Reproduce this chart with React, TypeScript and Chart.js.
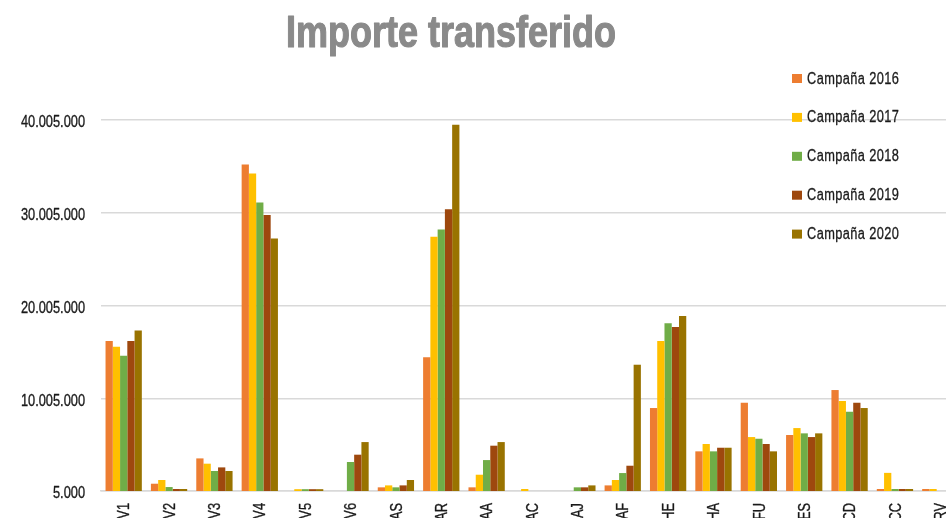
import React, { useEffect, useRef } from "react";
import { Chart, registerables } from "chart.js";

Chart.register(...registerables);

const categories = ["V1", "V2", "V3", "V4", "V5", "V6", "AS", "AR", "AA", "AC", "AJ", "AF", "HE", "HA", "FU", "ES", "CD", "CC", "RV"];

const campana2016 = [16170000, 790000, 3520000, 35220000, null, null, 400000, 14420000, 400000, null, null, 610000, 8950000, 4280000, 9520000, 6040000, 10890000, 220000, 220000];
const campana2017 = [15560000, 1190000, 2950000, 34250000, 200000, null, 610000, 27420000, 1760000, 220000, null, 1190000, 16170000, 5070000, 5820000, 6790000, 9710000, 1960000, 220000];
const campana2018 = [14590000, 430000, 2160000, 31120000, 200000, 3130000, 400000, 28200000, 3340000, 0, 400000, 1940000, 18080000, 4280000, 5640000, 6220000, 8550000, 220000, 0];
const campana2019 = [16170000, 220000, 2550000, 29760000, 200000, 3920000, 610000, 30370000, 4890000, 0, 400000, 2730000, 17680000, 4670000, 5070000, 5820000, 9520000, 220000, 0];
const campana2020 = [17320000, 220000, 2160000, 27240000, 200000, 5280000, 1190000, 39500000, 5280000, 0, 610000, 13620000, 18870000, 4670000, 4280000, 6220000, 8950000, 220000, 0];

const seriesLabels = ["Campaña 2016", "Campaña 2017", "Campaña 2018", "Campaña 2019", "Campaña 2020"];
const seriesColors = ["#ED7D31", "#FFC000", "#70AD47", "#9E480E", "#997300"];
const yTicks = [5000, 10005000, 20005000, 30005000, 40005000];
const titleText = "Importe transferido";

const FONT = "'Liberation Sans', Arial, sans-serif";
const NARROW = 0.8;
const TEXT_COLOR = "#1a1a1a";

const fmt = (v: number) => String(Math.round(v)).replace(/\B(?=(\d{3})+(?!\d))/g, ".");

function narrowText(ctx: CanvasRenderingContext2D, text: string, x: number, y: number, rot = 0, stroke = 0) {
  ctx.save();
  ctx.translate(x, y);
  if (rot) ctx.rotate(rot);
  ctx.scale(NARROW, 1);
  ctx.fillText(text, 0, 0);
  if (stroke > 0) {
    ctx.lineWidth = stroke;
    ctx.strokeStyle = ctx.fillStyle as string;
    ctx.lineJoin = "round";
    ctx.strokeText(text, 0, 0);
  }
  ctx.restore();
}

const overlayPlugin = {
  id: "overlay",
  afterDraw(chart: any) {
    const ctx: CanvasRenderingContext2D = chart.ctx;
    ctx.save();
    ctx.textBaseline = "alphabetic";

    // title
    ctx.font = `bold 45px ${FONT}`;
    ctx.fillStyle = "#8a8a8a";
    ctx.textAlign = "center";
    narrowText(ctx, titleText, 451, 46.5, 0, 1.2);

    // y tick labels from the library's y scale
    const ys = chart.scales.y;
    ctx.font = `16px ${FONT}`;
    ctx.fillStyle = TEXT_COLOR;
    ctx.textAlign = "right";
    ys.ticks.forEach((t: any) => {
      const py = ys.getPixelForValue(t.value);
      narrowText(ctx, fmt(t.value), 85, py + 7.3, 0, 0.35);
    });

    // x tick labels from the library's x scale (rotated)
    const xs = chart.scales.x;
    ctx.textAlign = "right";
    chart.data.labels.forEach((lab: string, i: number) => {
      const px = xs.getPixelForTick(i);
      narrowText(ctx, lab, px + 5.7, xs.top + 12, -Math.PI / 2, 0.35);
    });

    // legend
    ctx.font = `16px ${FONT}`;
    ctx.textAlign = "left";
    (ctx as any).letterSpacing = "0.5px";
    chart.data.datasets.forEach((ds: any, i: number) => {
      const cy = 78.5 + i * 38.9;
      ctx.fillStyle = ds.backgroundColor;
      ctx.fillRect(792, cy - 4.5, 10, 9);
      ctx.fillStyle = TEXT_COLOR;
      narrowText(ctx, ds.label, 807, cy + 5, 0, 0.3);
    });
    ctx.restore();
  },
};

export default function App() {
  const ref = useRef<HTMLCanvasElement | null>(null);
  useEffect(() => {
    if (!ref.current) return;
    const data = [campana2016, campana2017, campana2018, campana2019, campana2020];
    const chart = new Chart(ref.current, {
      type: "bar",
      data: {
        labels: categories,
        datasets: seriesLabels.map((label, i) => ({
          label,
          data: data[i],
          backgroundColor: seriesColors[i],
          borderWidth: 0,
          categoryPercentage: 0.8,
          barPercentage: 1.0,
        })),
      },
      options: {
        animation: false,
        responsive: false,
        layout: { padding: { top: 120, left: 0, right: 0, bottom: 0 } },
        plugins: {
          legend: { display: false },
          title: { display: false },
          tooltip: { enabled: false },
        },
        scales: {
          x: {
            grid: { display: false, drawTicks: false },
            border: { display: true, color: "#d9d9d9", width: 1.5 },
            ticks: { display: false, autoSkip: false },
            afterFit(scale: any) {
              scale.height = 49;
            },
          },
          y: {
            min: 5000,
            max: 40005000,
            grid: { color: "#d9d9d9", lineWidth: 1.4, drawTicks: false },
            border: { display: false },
            ticks: { display: false },
            afterBuildTicks(axis: any) {
              axis.ticks = yTicks.map((value) => ({ value }));
            },
            afterFit(scale: any) {
              scale.width = 101;
            },
          },
        },
      },
      plugins: [overlayPlugin],
    });
    return () => chart.destroy();
  }, []);
  return (
    <div style={{ position: "fixed", left: 0, top: 0, width: 946, height: 518, overflow: "hidden", background: "#fff" }}>
      <canvas ref={ref} width={963} height={540} style={{ display: "block" }} />
    </div>
  );
}
